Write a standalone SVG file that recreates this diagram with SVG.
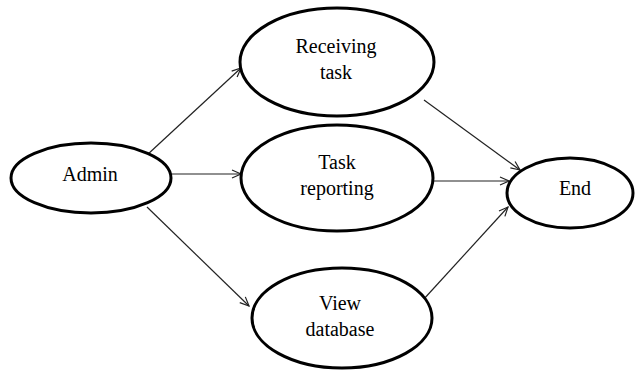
<svg xmlns="http://www.w3.org/2000/svg" width="638" height="372" viewBox="0 0 638 372">
<style>
.node ellipse{fill:#fff;stroke:#000;stroke-width:3}
.node text{font-family:"Liberation Serif",serif;font-size:20px;fill:#000;text-anchor:middle}
.conn line{stroke:#222;stroke-width:1.2;marker-end:url(#ah)}
</style>
<defs>
<marker id="ah" markerWidth="12" markerHeight="12" refX="10" refY="5" orient="auto" markerUnits="userSpaceOnUse">
<path d="M1,1 L10,5 L1,9" fill="none" stroke="#222" stroke-width="1.2"/>
</marker>
</defs>
<rect width="638" height="372" fill="#fff"/>
<g id="connectors" class="conn">
<line x1="147" y1="155" x2="241" y2="68"/>
<line x1="172" y1="174" x2="241" y2="174"/>
<line x1="147" y1="207" x2="249" y2="306"/>
<line x1="424" y1="100" x2="520" y2="170"/>
<line x1="433" y1="181" x2="509" y2="181"/>
<line x1="423" y1="300" x2="508" y2="207"/>
</g>
<g id="admin" class="node">
<ellipse cx="91" cy="178" rx="80" ry="35"/>
<text x="90" y="181">Admin</text>
</g>
<g id="receiving" class="node">
<ellipse cx="337" cy="62" rx="97" ry="54"/>
<text x="336" y="53">Receiving</text>
<text x="336" y="79">task</text>
</g>
<g id="reporting" class="node">
<ellipse cx="337" cy="178" rx="96" ry="53"/>
<text x="337" y="169">Task</text>
<text x="337" y="195">reporting</text>
</g>
<g id="view" class="node">
<ellipse cx="342" cy="318" rx="90" ry="50"/>
<text x="340" y="310">View</text>
<text x="340" y="336">database</text>
</g>
<g id="end" class="node">
<ellipse cx="570" cy="193" rx="63" ry="35"/>
<text x="575" y="195">End</text>
</g>
</svg>
